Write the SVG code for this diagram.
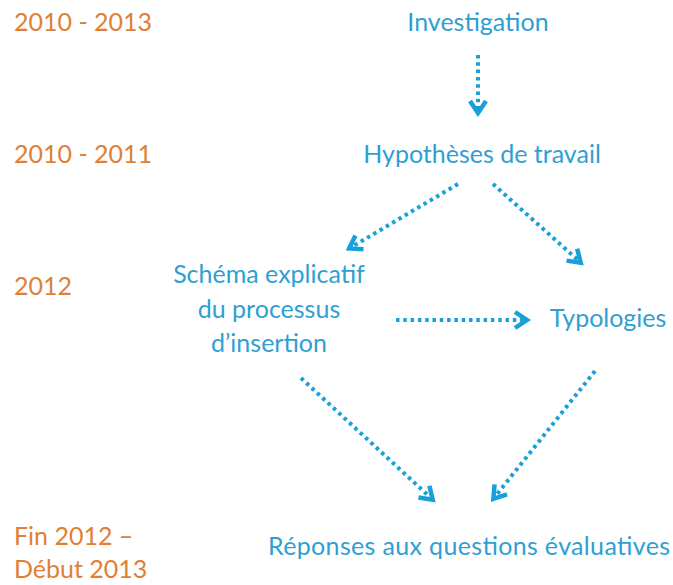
<svg xmlns="http://www.w3.org/2000/svg" width="673" height="585" viewBox="0 0 673 585">
<defs>
<style>
.t{font-family:Lato,"Open Sans","Liberation Sans",sans-serif;font-size:25px}
.b{fill:#2F9FD3}
.o{fill:#E07F35}
.c{fill:none;stroke:#1AA0D8;stroke-width:4;stroke-dasharray:3.5 3.8}
</style>
<marker id="ah" viewBox="0 0 20 20" refX="15" refY="10" markerWidth="20" markerHeight="20" markerUnits="userSpaceOnUse" orient="auto">
<path d="M4,2 L16,10 L4,18" fill="none" stroke="#1AA0D8" stroke-width="4.5" stroke-linejoin="miter"/>
</marker>
</defs>
<rect width="673" height="585" fill="#fff"/>
<g id="dates" class="t o">
<text x="14" y="31">2010 - 2013</text>
<text x="14" y="163">2010 - 2011</text>
<text x="14" y="295">2012</text>
<text x="14" y="545">Fin 2012 –</text>
<text x="14" y="578">Début 2013</text>
</g>
<g id="investigation" class="t b"><text x="478" y="31" text-anchor="middle">Investigation</text></g>
<g id="hypotheses" class="t b"><text x="482" y="163" text-anchor="middle">Hypothèses de travail</text></g>
<g id="schema" class="t b" text-anchor="middle">
<text x="269" y="283">Schéma explicatif</text>
<text x="269" y="318">du processus</text>
<text x="269" y="352">d’insertion</text>
</g>
<g id="typologies" class="t b"><text x="608" y="327" text-anchor="middle">Typologies</text></g>
<g id="reponses" class="t b"><text x="268" y="555" textLength="402" lengthAdjust="spacing">Réponses aux questions évaluatives</text></g>
<g id="connectors">
<line class="c" x1="478" y1="55" x2="478" y2="112" marker-end="url(#ah)"/>
<line class="c" x1="458" y1="184" x2="350" y2="248" marker-end="url(#ah)"/>
<line class="c" x1="493" y1="184" x2="580" y2="262" marker-end="url(#ah)"/>
<line class="c" x1="396" y1="320" x2="526" y2="320" marker-end="url(#ah)"/>
<line class="c" x1="301" y1="378" x2="432" y2="499" marker-end="url(#ah)"/>
<line class="c" x1="595" y1="371" x2="494" y2="498" marker-end="url(#ah)"/>
</g>
</svg>
